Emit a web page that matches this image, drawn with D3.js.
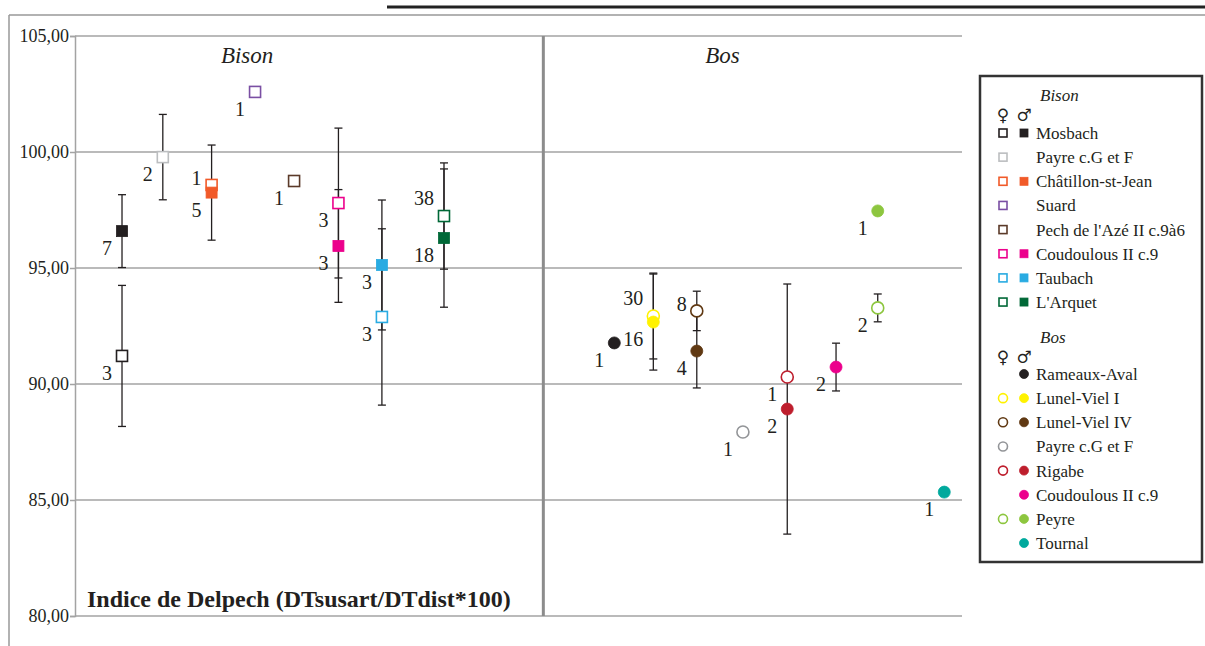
<!DOCTYPE html>
<html><head><meta charset="utf-8">
<script src="https://cdn.jsdelivr.net/npm/d3@7"></script>
<style>
body{margin:0;background:#fff}
svg{display:block}
.sf{font-family:"Liberation Serif","Times New Roman","DejaVu Serif",serif;}
</style>
</head><body>
<svg id="chart" width="1205" height="646"></svg>
<script>
// ---------- DATA ----------
const yTicks = [80, 85, 90, 95, 100, 105];
const yTickLabels = ["80,00", "85,00", "90,00", "95,00", "100,00", "105,00"];

const bisonSites = ["Mosbach", "Payre c.G et F", "Châtillon-st-Jean", "Suard", "Pech de l'Azé II c.9à6", "Coudoulous II c.9", "Taubach", "L'Arquet"];
const bisonX = [5.3, 9.9, 15.4, 20.3, 24.7, 29.7, 34.6, 41.6];
const bisonColors = ["#231f20", "#bcbec0", "#f15a29", "#7a4fa3", "#5b3a29", "#ec008c", "#29abe2", "#006837"];
const bisonFemaleMean = [91.21, 99.78, 98.58, 102.59, 98.75, 97.80, 92.89, 97.24];
const bisonFemaleSD   = [3.04, 1.84, null, null, null, 3.23, 3.80, 2.29];
const bisonFemaleN    = [3, 2, 1, 1, 1, 3, 3, 38];
const bisonMaleMean   = [96.59, null, 98.25, null, null, 95.95, 95.13, 96.29];
const bisonMaleSD     = [1.57, null, 2.05, null, null, 2.43, 2.80, 2.98];
const bisonMaleN      = [7, null, 5, null, null, 3, 3, 18];

const bosSites = ["Rameaux-Aval", "Lunel-Viel I", "Lunel-Viel IV", "Payre c.G et F", "Rigabe", "Coudoulous II c.9", "Peyre", "Tournal"];
const bosX = [60.8, 65.2, 70.1, 75.3, 80.3, 85.8, 90.5, 98.0];
const bosColors = ["#231f20", "#fff200", "#603913", "#939598", "#be1e2d", "#ec008c", "#8dc63f", "#00a99d"];
const bosFemaleMean = [null, 92.93, 93.15, 87.93, 90.30, null, 93.28, null];
const bosFemaleSD   = [null, 1.85, 0.85, null, null, null, 0.60, null];
const bosFemaleN    = [null, 30, 8, 1, 1, null, 2, null];
const bosMaleMean   = [91.77, 92.67, 91.42, null, 88.92, 90.73, 97.46, 85.34];
const bosMaleSD     = [null, 2.07, 1.59, null, 5.39, 1.03, null, null];
const bosMaleN      = [1, 16, 4, null, 2, 2, 1, 1];

// legend: which sexes shown for each site
const bisonLegendFemale = [true, true, true, true, true, true, true, true];
const bisonLegendMale   = [true, false, true, false, false, true, true, true];
const bosLegendFemale   = [false, true, true, true, true, false, true, false];
const bosLegendMale     = [true, true, true, false, true, true, true, true];

// label placement ("a" above-left, "l" left, "b" below-left)
const bisonFemaleLab = ["b", "b", "l", "b", "b", "b", "b", "a"];
const bisonMaleLab   = ["b", "b", "b", "b", "b", "b", "b", "b"];
const bosFemaleLab   = ["b", "a", "l", "b", "b", "b", "b", "b"];
const bosMaleLab     = ["b", "b", "b", "b", "b", "b", "b", "b"];

// ---------- CHART ----------
const svg = d3.select("#chart");
const L = 75, R = 962, T = 36, B = 616;
const x = d3.scaleLinear().domain([0, 100]).range([L, R]);
const y = d3.scaleLinear().domain([80, 105]).range([B, T]);
const grid = "#a3a3a3";
const ink = "#231f20";

// frame lines
svg.append("line").attr("x1", 387).attr("x2", 1205).attr("y1", 7).attr("y2", 7)
  .attr("stroke", "#222").attr("stroke-width", 3);
svg.append("line").attr("x1", 9).attr("x2", 1205).attr("y1", 15).attr("y2", 15)
  .attr("stroke", "#999").attr("stroke-width", 1.5);
svg.append("line").attr("x1", 9).attr("x2", 9).attr("y1", 15).attr("y2", 646)
  .attr("stroke", "#999").attr("stroke-width", 1.5);

// grid lines
svg.append("g").selectAll("line").data(yTicks).join("line")
  .attr("x1", L).attr("x2", R).attr("y1", d => y(d)).attr("y2", d => y(d))
  .attr("stroke", grid).attr("stroke-width", 1.5);

// y axis
const yAxis = d3.axisLeft(y).tickValues(yTicks).tickSize(5).tickPadding(1)
  .tickFormat((d, i) => yTickLabels[i]);
const gy = svg.append("g").attr("transform", `translate(${L},0)`).call(yAxis)
  .attr("font-family", null).attr("font-size", null);
gy.select(".domain").attr("stroke", grid).attr("stroke-width", 1.5);
gy.selectAll(".tick line").attr("stroke", grid).attr("stroke-width", 1.5);
gy.selectAll(".tick text").attr("class", "sf").style("font-size", "18px")
  .attr("fill", ink).attr("dy", "0.32em");

// divider
svg.append("line").attr("x1", x(52.8)).attr("x2", x(52.8)).attr("y1", T).attr("y2", B)
  .attr("stroke", "#8c8c8c").attr("stroke-width", 3);

// panel titles
svg.append("text").attr("class", "sf").attr("x", x(19.4)).attr("y", 63).attr("text-anchor", "middle")
  .style("font-style", "italic").style("font-size", "23px").attr("fill", ink).text("Bison");
svg.append("text").attr("class", "sf").attr("x", x(73)).attr("y", 63).attr("text-anchor", "middle")
  .style("font-style", "italic").style("font-size", "23px").attr("fill", ink).text("Bos");

// bottom label
svg.append("text").attr("class", "sf").attr("x", 87).attr("y", 607)
  .style("font-weight", "bold").style("font-size", "24px")
  .attr("fill", ink).text("Indice de Delpech (DTsusart/DTdist*100)");

// build points
function build(sites, xs, colors, mean, sd, n, labs, sex, shape) {
  return sites.map((s, i) => ({ site: s, x: xs[i], color: colors[i], mean: mean[i], sd: sd[i], n: n[i], lab: labs[i], sex, shape }))
    .filter(d => d.mean != null);
}
const pts = [
  ...build(bisonSites, bisonX, bisonColors, bisonFemaleMean, bisonFemaleSD, bisonFemaleN, bisonFemaleLab, "f", "square"),
  ...build(bisonSites, bisonX, bisonColors, bisonMaleMean, bisonMaleSD, bisonMaleN, bisonMaleLab, "m", "square"),
  ...build(bosSites, bosX, bosColors, bosFemaleMean, bosFemaleSD, bosFemaleN, bosFemaleLab, "f", "circle"),
  ...build(bosSites, bosX, bosColors, bosMaleMean, bosMaleSD, bosMaleN, bosMaleLab, "m", "circle"),
];

// error bars
const eb = pts.filter(d => d.sd != null);
const ge = svg.append("g").attr("stroke", ink).attr("stroke-width", 1.3);
ge.selectAll("line.v").data(eb).join("line").attr("class", "v")
  .attr("x1", d => x(d.x)).attr("x2", d => x(d.x))
  .attr("y1", d => y(d.mean + d.sd)).attr("y2", d => y(d.mean - d.sd));
ge.selectAll("line.t").data(eb).join("line").attr("class", "t")
  .attr("x1", d => x(d.x) - 4).attr("x2", d => x(d.x) + 4)
  .attr("y1", d => y(d.mean + d.sd)).attr("y2", d => y(d.mean + d.sd));
ge.selectAll("line.b").data(eb).join("line").attr("class", "b")
  .attr("x1", d => x(d.x) - 4).attr("x2", d => x(d.x) + 4)
  .attr("y1", d => y(d.mean - d.sd)).attr("y2", d => y(d.mean - d.sd));

// markers
function drawMarker(g, shape, sex, color, cx, cy, size) {
  if (shape === "square") {
    const s = size;
    g.append("rect").attr("x", cx - s / 2).attr("y", cy - s / 2).attr("width", s).attr("height", s)
      .attr("fill", sex === "f" ? "#fff" : color)
      .attr("stroke", color).attr("stroke-width", sex === "f" ? 1.6 : 0.8);
  } else {
    const r = size / 2;
    g.append("circle").attr("cx", cx).attr("cy", cy).attr("r", r)
      .attr("fill", sex === "f" ? "#fff" : color)
      .attr("stroke", color).attr("stroke-width", sex === "f" ? 1.6 : 0.8);
  }
}
const gm = svg.append("g");
pts.forEach(d => drawMarker(gm, d.shape, d.sex, d.color, x(d.x), y(d.mean), d.shape === "square" ? 11 : 12));

// n labels
const labDy = { a: -18, l: -7, b: 17 };
svg.append("g").selectAll("text").data(pts).join("text")
  .attr("class", "sf")
  .attr("x", d => x(d.x) - (String(d.n).length > 1 ? 20 : 15))
  .attr("y", d => y(d.mean) + labDy[d.lab] + 7)
  .attr("text-anchor", "middle")
  .style("font-size", "20px").attr("fill", ink)
  .text(d => d.n);

// ---------- LEGEND ----------
const lg = svg.append("g");
lg.append("rect").attr("x", 980).attr("y", 76).attr("width", 222).attr("height", 486)
  .attr("fill", "#fff").attr("stroke", "#333").attr("stroke-width", 2.5);
const fx = 1003, mx = 1024, tx = 1036;
function legendBlock(title, titleY, symY, rowY0, sites, colors, showF, showM, shape) {
  lg.append("text").attr("class", "sf").attr("x", 1040).attr("y", titleY)
    .style("font-style", "italic").style("font-size", "17px").attr("fill", ink).text(title);
  lg.append("text").attr("x", fx).attr("y", symY + 6).attr("text-anchor", "middle")
    .style("font-family", "'DejaVu Serif','DejaVu Sans',sans-serif").style("font-size", "17px").attr("fill", ink).text("♀");
  lg.append("text").attr("x", mx).attr("y", symY + 6).attr("text-anchor", "middle")
    .style("font-family", "'DejaVu Serif','DejaVu Sans',sans-serif").style("font-size", "17px").attr("fill", ink).text("♂");
  sites.forEach((s, i) => {
    const ry = rowY0 + i * 24.15;
    if (showF[i]) drawMarker(lg, shape, "f", colors[i], fx, ry, shape === "square" ? 8 : 9);
    if (showM[i]) drawMarker(lg, shape, "m", colors[i], mx, ry, shape === "square" ? 8 : 9);
    lg.append("text").attr("class", "sf").attr("x", tx).attr("y", ry + 6)
      .style("font-size", "17px").attr("fill", ink).text(s);
  });
}
legendBlock("Bison", 101, 115, 133, bisonSites, bisonColors, bisonLegendFemale, bisonLegendMale, "square");
legendBlock("Bos", 343, 357, 374, bosSites, bosColors, bosLegendFemale, bosLegendMale, "circle");
</script>
</body></html>
